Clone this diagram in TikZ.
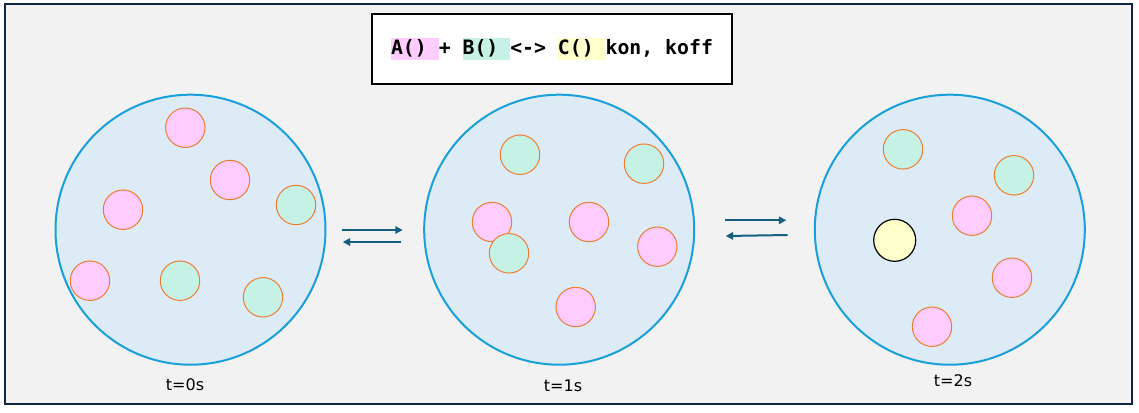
\documentclass[tikz,border=0pt]{standalone}
\usepackage{fontspec}
\setmainfont{DejaVu Sans}
\newfontfamily\eqfont{DejaVu Sans Mono}
\usepackage{tikz}
\usetikzlibrary{arrows.meta,positioning}

\definecolor{bgray}{HTML}{F2F2F2}
\definecolor{framec}{HTML}{0E2841}
\definecolor{diskfill}{HTML}{DDEBF7}
\definecolor{diskline}{HTML}{199FD9}
\definecolor{molA}{HTML}{FFCCFF}
\definecolor{molB}{HTML}{C6F2E6}
\definecolor{molC}{HTML}{FFFFCC}
\definecolor{molline}{HTML}{ED7D31}
\definecolor{rxn}{HTML}{156082}

\newcommand{\hlbox}[2]{{\setlength{\fboxsep}{0pt}\colorbox{#1}{\rule[-4.7pt]{0pt}{17.2pt}#2}}}

\begin{document}
\begin{tikzpicture}[x=0.75pt,y=-0.75pt,
  every node/.style={inner sep=0pt},
  disk/.style={circle,draw=diskline,fill=diskfill,line width=1.5pt,minimum size=202.5pt},
  mol/.style={circle,draw=molline,line width=0.75pt,minimum size=29.6pt},
  molA/.style={mol,fill=molA},
  molB/.style={mol,fill=molB},
  molC/.style={circle,draw=black,line width=0.9pt,fill=molC,minimum size=31.5pt},
  stamp/.style={font=\fontsize{12pt}{14pt}\selectfont},
  titlebox/.style={draw=black,fill=white,line width=1.5pt,minimum width=270pt,minimum height=52.5pt,
    font=\eqfont\bfseries\fontsize{14.85pt}{18pt}\selectfont},
  rarrow/.style={draw=rxn,line width=1.5pt,-{Triangle[length=5.5pt,width=5.5pt]}}]
\useasboundingbox (0,0) rectangle (1139,412);
\draw [framec,fill=bgray,line width=1.5pt] (5,4.3) rectangle (1131.7,403.7);
% reaction
\node [titlebox] (eq) at (552,49) {\hlbox{molA}{A()\ }+\ \hlbox{molB}{B()\ }<->\ \hlbox{molC}{C()\ }kon,\ koff};
% t = 0s
\node [disk] (s0) at (190.5,229.7) {};
\node [molA] (s0a1) at (185.3,127.7) {};
\node [molA] (s0a2) at (230,180) {};
\node [molB] (s0b1) at (296,205) {};
\node [molA] (s0a3) at (123,209.7) {};
\node [molA] (s0a4) at (90,280.7) {};
\node [molB] (s0b2) at (180,280.7) {};
\node [molB] (s0b3) at (263,297.3) {};
\node [stamp] (t0) at (185,385) {t=0s};
% t = 1s
\node [disk] (s1) at (559.2,229.7) {};
\node [molB] (s1b1) at (520,154.7) {};
\node [molB] (s1b2) at (644,163.7) {};
\node [molA] (s1a1) at (492,222) {};
\node [molA] (s1a2) at (589,222) {};
\node [molB] (s1b3) at (509,253.3) {};
\node [molA] (s1a3) at (657.3,246.7) {};
\node [molA] (s1a4) at (575.7,307) {};
\node [stamp] (t1) at (563,386) {t=1s};
% t = 2s
\node [disk] (s2) at (949.8,229.7) {};
\node [molB] (s2b1) at (903,149.3) {};
\node [molB] (s2b2) at (1014,175.3) {};
\node [molA] (s2a1) at (972,215.7) {};
\node [molC] (s2c1) at (894.7,240.3) {};
\node [molA] (s2a2) at (1012,277.7) {};
\node [molA] (s2a3) at (932,326.7) {};
\node [stamp] (t2) at (953,380.5) {t=2s};
% equilibrium arrows
\coordinate (f1s) at (342,230);
\coordinate (f1e) at (402.7,230);
\coordinate (r1s) at (401,242);
\coordinate (r1e) at (342.7,242);
\coordinate (f2s) at (725,220.3);
\coordinate (f2e) at (786.3,220.3);
\coordinate (r2s) at (787.7,235);
\coordinate (r2e) at (725.7,236);
\draw [rarrow] (f1s) -- (f1e);
\draw [rarrow] (r1s) -- (r1e);
\draw [rarrow] (f2s) -- (f2e);
\draw [rarrow] (r2s) -- (r2e);
\end{tikzpicture}
\end{document}
